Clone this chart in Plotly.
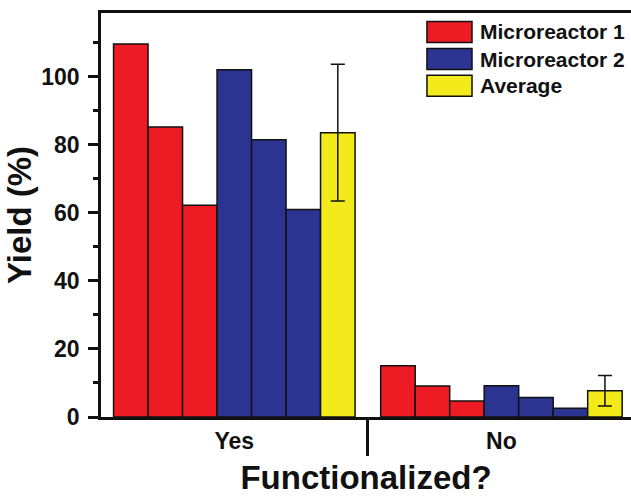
import plotly.graph_objects as go

# Yield (%) per functionalization state: [Yes, No]
categories = ["Yes", "No"]

mr1_run1 = [109.7, 15.1]
mr1_run2 = [85.3, 9.1]
mr1_run3 = [62.3, 4.7]

mr2_run1 = [102.1, 9.2]
mr2_run2 = [81.5, 5.7]
mr2_run3 = [61.0, 2.6]

average = [83.6, 7.7]
average_err = [20.1, 4.5]

series_names = ["Microreactor 1", "Microreactor 2", "Average"]
series_colors = ["#ED1C24", "#2B3591", "#F2EA1A"]

FONT = "Liberation Sans, Arial, sans-serif"
INK = "#111111"

fig = go.Figure()

runs = [
    (mr1_run1, 0), (mr1_run2, 0), (mr1_run3, 0),
    (mr2_run1, 1), (mr2_run2, 1), (mr2_run3, 1),
]
for vals, s in runs:
    fig.add_trace(go.Bar(
        x=categories, y=vals, name=series_names[s],
        marker=dict(color=series_colors[s], line=dict(color=INK, width=1.5)),
        showlegend=False,
    ))

fig.add_trace(go.Bar(
    x=categories, y=average, name=series_names[2],
    marker=dict(color=series_colors[2], line=dict(color=INK, width=1.5)),
    error_y=dict(type="data", array=average_err, visible=True,
                 color=INK, thickness=1.5, width=7),
    showlegend=False,
))

# Legend drawn as boxes + labels in the upper-right corner
box_x0, box_x1 = 0.615, 0.700
row_top = [0.979, 0.912, 0.846]
row_h = 0.052
for name, color, top in zip(series_names, series_colors, row_top):
    fig.add_shape(type="rect", xref="paper", yref="paper",
                  x0=box_x0, x1=box_x1, y0=top - row_h, y1=top,
                  fillcolor=color, line=dict(color=INK, width=1.5))
    fig.add_annotation(xref="paper", yref="paper", x=0.711, y=top - row_h / 2,
                       text=name, showarrow=False, xanchor="left", yanchor="middle",
                       font=dict(family=FONT, size=21, color=INK, weight="bold"))

fig.update_layout(
    width=631, height=496,
    margin=dict(l=101, r=0, t=13, b=79),
    paper_bgcolor="white", plot_bgcolor="white",
    barmode="group", bargap=0.096, bargroupgap=0,
    showlegend=False,
    font=dict(family=FONT, color=INK),
)

fig.update_xaxes(
    type="category", range=[-0.499, 1.485],
    showline=True, linecolor=INK, linewidth=2.5, mirror=True,
    ticks="outside", tickson="boundaries", ticklen=36, tickwidth=2.5, tickcolor=INK,
    ticklabelstandoff=2,
    tickfont=dict(family=FONT, size=23, color=INK, weight="bold"),
    title=dict(text="Functionalized?", standoff=15,
               font=dict(family=FONT, size=33, color=INK, weight="bold")),
    showgrid=False, zeroline=False,
)

fig.update_yaxes(
    range=[0, 118.8],
    showline=True, linecolor=INK, linewidth=2.5,
    ticks="outside", ticklen=10, tickwidth=2.5, tickcolor=INK,
    tickvals=[0, 20, 40, 60, 80, 100],
    minor=dict(tickvals=[10, 30, 50, 70, 90, 110], ticks="outside",
               ticklen=5, tickwidth=2.5, tickcolor=INK),
    ticklabelstandoff=4,
    tickfont=dict(family=FONT, size=23, color=INK, weight="bold"),
    title=dict(text="Yield (%)", standoff=0,
               font=dict(family=FONT, size=33, color=INK, weight="bold")),
    showgrid=False, zeroline=False,
)

fig.write_html("out.html")
